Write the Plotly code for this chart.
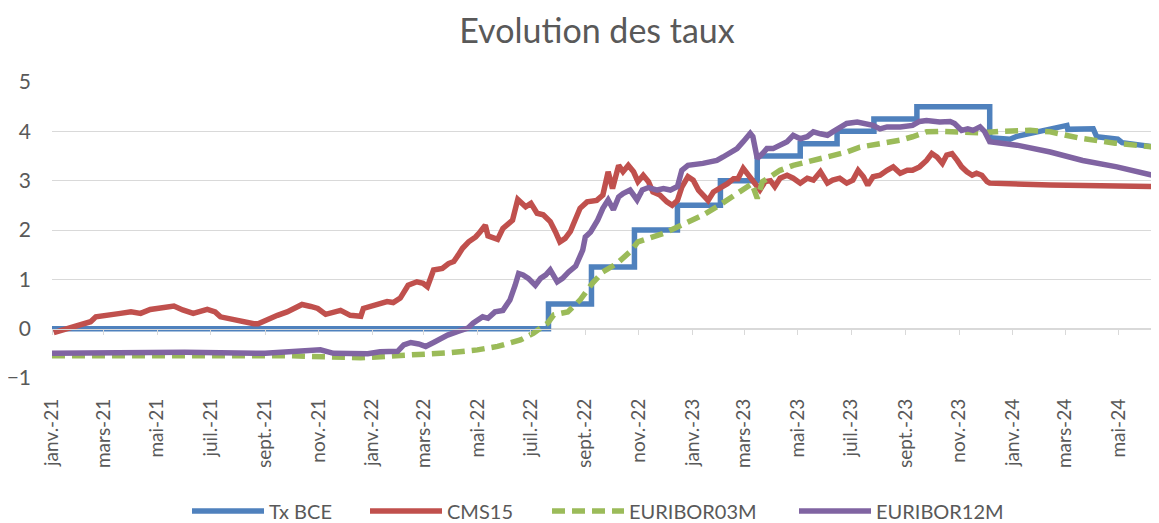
import plotly.graph_objects as go

# ---------------- data ----------------
bce_step_dates = ["2021-01-01", "2022-07-21", "2022-09-08", "2022-10-27", "2022-12-15",
                  "2023-02-02", "2023-03-16", "2023-05-04", "2023-06-15", "2023-07-27",
                  "2023-09-14"]
bce_step_rates = [0.0, 0.5, 1.25, 2.0, 2.5, 3.0, 3.5, 3.75, 4.0, 4.25, 4.5]
bce_fwd_dates = ["2023-12-06", "2023-12-29", "2024-01-06", "2024-02-05", "2024-03-03",
                 "2024-03-04", "2024-04-02", "2024-04-06", "2024-04-30", "2024-05-05",
                 "2024-06-16"]
bce_fwd_rates = [3.87, 3.84, 3.90, 4.01, 4.12, 4.04, 4.05, 3.89, 3.84, 3.77, 3.67]

cms_dates = ["2021-01-03", "2021-01-19", "2021-02-03", "2021-02-14", "2021-02-20", "2021-03-01",
             "2021-03-20", "2021-04-01", "2021-04-12", "2021-04-23", "2021-05-05", "2021-05-20",
             "2021-05-30", "2021-06-11", "2021-06-27", "2021-07-06", "2021-07-12", "2021-07-27",
             "2021-08-07", "2021-08-19", "2021-08-24", "2021-09-04", "2021-09-15", "2021-09-26",
             "2021-10-03", "2021-10-13", "2021-10-23", "2021-10-31", "2021-11-09", "2021-11-18",
             "2021-11-26", "2021-12-07", "2021-12-19", "2021-12-22", "2022-01-07", "2022-01-18",
             "2022-01-25", "2022-02-02", "2022-02-11", "2022-02-21", "2022-02-28", "2022-03-05",
             "2022-03-12", "2022-03-22", "2022-03-29", "2022-04-04", "2022-04-09", "2022-04-14",
             "2022-04-21", "2022-04-29", "2022-05-04", "2022-05-10", "2022-05-13", "2022-05-24",
             "2022-05-30", "2022-06-10", "2022-06-16", "2022-06-19", "2022-06-25", "2022-07-01",
             "2022-07-08", "2022-07-15", "2022-07-23", "2022-07-29", "2022-08-03", "2022-08-09",
             "2022-08-15", "2022-08-18", "2022-08-26", "2022-09-03", "2022-09-14", "2022-09-21",
             "2022-09-27", "2022-10-02", "2022-10-09", "2022-10-14", "2022-10-20", "2022-10-26",
             "2022-10-31", "2022-11-06", "2022-11-12", "2022-11-17", "2022-11-25", "2022-12-03",
             "2022-12-09", "2022-12-15", "2022-12-20", "2022-12-27", "2023-01-02", "2023-01-08",
             "2023-01-13", "2023-01-19", "2023-01-25", "2023-02-02", "2023-02-10", "2023-02-17",
             "2023-02-22", "2023-02-28", "2023-03-06", "2023-03-11", "2023-03-19", "2023-03-25",
             "2023-03-31", "2023-04-05", "2023-04-11", "2023-04-19", "2023-04-26", "2023-05-04",
             "2023-05-12", "2023-05-19", "2023-05-27", "2023-06-04", "2023-06-10", "2023-06-18",
             "2023-06-26", "2023-07-03", "2023-07-09", "2023-07-15", "2023-07-20", "2023-07-26",
             "2023-08-03", "2023-08-11", "2023-08-18", "2023-08-26", "2023-09-03", "2023-09-09",
             "2023-09-17", "2023-09-25", "2023-10-01", "2023-10-07", "2023-10-13", "2023-10-18",
             "2023-10-24", "2023-10-30", "2023-11-04", "2023-11-10", "2023-11-16", "2023-11-21",
             "2023-11-27", "2023-12-03", "2023-12-06", "2024-02-13", "2024-04-29", "2024-06-16"]
cms_values = [-0.08, 0.00, 0.07, 0.14, 0.24, 0.27,
              0.31, 0.34, 0.31, 0.39, 0.43, 0.46,
              0.38, 0.31, 0.39, 0.34, 0.24, 0.18,
              0.14, 0.10, 0.10, 0.20, 0.27, 0.34,
              0.41, 0.49, 0.45, 0.41, 0.29, 0.34,
              0.37, 0.27, 0.25, 0.41, 0.51, 0.55,
              0.53, 0.62, 0.88, 0.95, 0.92, 0.85,
              1.19, 1.22, 1.32, 1.36, 1.49, 1.63,
              1.76, 1.86, 1.96, 2.10, 1.88, 1.81,
              2.03, 2.20, 2.62, 2.58, 2.47, 2.54,
              2.34, 2.31, 2.17, 1.96, 1.76, 1.83,
              1.97, 2.10, 2.44, 2.57, 2.60, 2.71,
              3.18, 2.84, 3.31, 3.18, 3.31, 3.18,
              2.98, 3.11, 2.98, 2.77, 2.71, 2.57,
              2.50, 2.60, 2.87, 3.08, 3.01, 2.81,
              2.71, 2.60, 2.77, 2.84, 2.94, 3.04,
              3.04, 3.25, 3.11, 2.98, 2.81, 2.98,
              3.00, 2.88, 3.05, 3.11, 3.05, 2.95,
              3.05, 3.01, 3.18, 2.95, 3.01, 3.05,
              2.95, 3.01, 3.21, 3.08, 2.91, 3.08,
              3.11, 3.21, 3.28, 3.15, 3.21, 3.21,
              3.28, 3.41, 3.55, 3.48, 3.35, 3.52,
              3.55, 3.41, 3.28, 3.18, 3.11, 3.15,
              3.11, 2.98, 2.95, 2.91, 2.89, 2.88]

e3m_dates = ["2021-01-01", "2021-06-01", "2021-10-01", "2021-12-19", "2022-01-10", "2022-02-17",
             "2022-03-28", "2022-05-01", "2022-05-24", "2022-06-19", "2022-07-04", "2022-07-20",
             "2022-07-27", "2022-08-12", "2022-08-26", "2022-09-09", "2022-09-21", "2022-10-07",
             "2022-10-22", "2022-10-31", "2022-11-14", "2022-11-29", "2022-12-15", "2022-12-29",
             "2023-01-13", "2023-01-29", "2023-02-13", "2023-02-28", "2023-03-10", "2023-03-16",
             "2023-03-22", "2023-03-31", "2023-04-11", "2023-04-26", "2023-05-12", "2023-05-27",
             "2023-06-10", "2023-06-26", "2023-07-11", "2023-07-26", "2023-08-11", "2023-08-26",
             "2023-09-09", "2023-09-25", "2023-10-10", "2023-10-25", "2023-11-05", "2023-11-28",
             "2023-12-18", "2024-01-21", "2024-02-13", "2024-03-18", "2024-04-27", "2024-06-16"]
e3m_values = [-0.55, -0.54, -0.55, -0.59, -0.57, -0.53,
              -0.49, -0.43, -0.36, -0.23, -0.09, 0.11,
              0.28, 0.34, 0.58, 0.92, 1.15, 1.32,
              1.56, 1.76, 1.83, 1.93, 2.06, 2.17,
              2.30, 2.47, 2.64, 2.81, 2.94, 2.64,
              2.98, 3.08, 3.21, 3.31, 3.38, 3.45,
              3.52, 3.58, 3.68, 3.72, 3.79, 3.82,
              3.89, 3.99, 4.00, 3.99, 3.97, 3.97,
              4.00, 4.02, 3.99, 3.86, 3.76, 3.67]

e12m_dates = ["2021-01-01", "2021-03-15", "2021-06-01", "2021-09-01", "2021-11-03", "2021-11-18",
              "2021-12-27", "2022-01-10", "2022-01-30", "2022-02-06", "2022-02-14", "2022-02-23",
              "2022-03-03", "2022-03-12", "2022-03-28", "2022-04-08", "2022-04-20", "2022-04-26",
              "2022-05-07", "2022-05-13", "2022-05-21", "2022-05-30", "2022-06-07", "2022-06-13",
              "2022-06-17", "2022-06-22", "2022-06-28", "2022-07-06", "2022-07-12", "2022-07-18",
              "2022-07-23", "2022-07-31", "2022-08-06", "2022-08-13", "2022-08-21", "2022-08-29",
              "2022-09-01", "2022-09-07", "2022-09-15", "2022-09-21", "2022-09-27", "2022-10-03",
              "2022-10-09", "2022-10-14", "2022-10-22", "2022-10-30", "2022-11-05", "2022-11-12",
              "2022-11-22", "2022-11-29", "2022-12-07", "2022-12-15", "2022-12-20", "2022-12-27",
              "2023-01-06", "2023-01-13", "2023-01-21", "2023-01-29", "2023-02-05", "2023-02-13",
              "2023-02-21", "2023-02-28", "2023-03-08", "2023-03-11", "2023-03-16", "2023-03-22",
              "2023-03-27", "2023-04-03", "2023-04-11", "2023-04-19", "2023-04-26", "2023-05-04",
              "2023-05-12", "2023-05-19", "2023-05-27", "2023-06-04", "2023-06-10", "2023-06-18",
              "2023-06-26", "2023-07-08", "2023-07-15", "2023-07-26", "2023-08-03", "2023-08-11",
              "2023-08-26", "2023-09-09", "2023-09-17", "2023-09-25", "2023-10-10", "2023-10-22",
              "2023-10-27", "2023-11-04", "2023-11-11", "2023-11-17", "2023-11-25", "2023-11-30",
              "2023-12-06", "2024-01-06", "2024-02-13", "2024-03-21", "2024-04-29", "2024-06-16"]
e12m_values = [-0.50, -0.49, -0.48, -0.50, -0.43, -0.50,
               -0.51, -0.47, -0.46, -0.33, -0.28, -0.31,
               -0.36, -0.28, -0.13, -0.06, 0.01, 0.11,
               0.24, 0.21, 0.34, 0.37, 0.58, 0.88,
               1.12, 1.09, 1.02, 0.88, 1.02, 1.09,
               1.19, 0.95, 1.02, 1.15, 1.27, 1.59,
               1.86, 1.96, 2.20, 2.44, 2.61, 2.41,
               2.67, 2.74, 2.81, 2.61, 2.81, 2.86,
               2.81, 2.84, 2.81, 2.88, 3.21, 3.31,
               3.35, 3.35, 3.38, 3.41, 3.48, 3.55,
               3.65, 3.79, 3.96, 3.89, 3.45, 3.55,
               3.65, 3.65, 3.72, 3.79, 3.92, 3.85,
               3.89, 3.99, 3.95, 3.92, 3.99, 4.09,
               4.16, 4.19, 4.16, 4.12, 4.05, 4.09,
               4.09, 4.12, 4.20, 4.22, 4.19, 4.20,
               4.16, 4.02, 4.05, 4.02, 4.09, 4.00,
               3.79, 3.72, 3.58, 3.41, 3.28, 3.08]

tick_dates = ["2021-01-01", "2021-03-01", "2021-05-01", "2021-07-01", "2021-09-01", "2021-11-01",
              "2022-01-01", "2022-03-01", "2022-05-01", "2022-07-01", "2022-09-01", "2022-11-01",
              "2023-01-01", "2023-03-01", "2023-05-01", "2023-07-01", "2023-09-01", "2023-11-01",
              "2024-01-01", "2024-03-01", "2024-05-01"]
tick_labels = ["janv.-21", "mars-21", "mai-21", "juil.-21", "sept.-21", "nov.-21",
               "janv.-22", "mars-22", "mai-22", "juil.-22", "sept.-22", "nov.-22",
               "janv.-23", "mars-23", "mai-23", "juil.-23", "sept.-23", "nov.-23",
               "janv.-24", "mars-24", "mai-24"]

x_range = ["2021-01-01", "2024-06-16"]
y_range = [-1, 5]

# build step series for Tx BCE from the decision dates
bce_x, bce_y = [], []
for i, (d, r) in enumerate(zip(bce_step_dates, bce_step_rates)):
    if i > 0:
        bce_x.append(d)
        bce_y.append(bce_step_rates[i - 1])
    bce_x.append(d)
    bce_y.append(r)
bce_x.append(bce_fwd_dates[0])
bce_y.append(bce_step_rates[-1])
bce_x += bce_fwd_dates
bce_y += bce_fwd_rates

FONT = "Lato"
GREY = "#595959"
LW = 5.5
# the page body keeps an 8px margin, so the figure is sized to fit the 1159x523 window
W, H = 1151, 515

fig = go.Figure()
fig.add_trace(go.Scatter(x=bce_x, y=bce_y, mode="lines", name="Tx BCE", legend="legend",
                         line=dict(color="#4F81BD", width=LW)))
fig.add_trace(go.Scatter(x=cms_dates, y=cms_values, mode="lines", name="CMS15", legend="legend2",
                         line=dict(color="#C0504D", width=LW)))
fig.add_trace(go.Scatter(x=e3m_dates, y=e3m_values, mode="lines", name="EURIBOR03M",
                         legend="legend3",
                         line=dict(color="#9BBB59", width=LW, dash="13px,7px")))
fig.add_trace(go.Scatter(x=e12m_dates, y=e12m_values, mode="lines", name="EURIBOR12M",
                         legend="legend4",
                         line=dict(color="#8064A2", width=LW)))
# empty trace so that the tick-mark axis at y=0 gets drawn
fig.add_trace(go.Scatter(x=[], y=[], xaxis="x2", showlegend=False, hoverinfo="skip"))


def legend_at(px_left):
    return dict(orientation="h", x=(px_left - 8 - 6) / W, xanchor="left", xref="container",
                y=12 / H, yanchor="middle", yref="container", bgcolor="rgba(0,0,0,0)",
                font=dict(family=FONT, size=20, color=GREY), itemwidth=72)


fig.update_layout(
    width=W, height=H,
    margin=dict(l=44, r=0, t=74, b=145, autoexpand=False),
    paper_bgcolor="white", plot_bgcolor="white",
    font=dict(family=FONT, color=GREY),
    title=dict(text="Evolution des taux", x=589 / W, xanchor="center", xref="container",
               y=1 - 23 / H, yanchor="middle", yref="container",
               font=dict(family=FONT, size=34, color=GREY)),
    xaxis=dict(type="date", range=x_range, tickmode="array", tickvals=tick_dates,
               ticktext=tick_labels, tickangle=-90, showgrid=False, zeroline=False,
               showline=False, ticks="", ticklabelstandoff=16,
               tickfont=dict(family=FONT, size=19, color=GREY)),
    xaxis2=dict(type="date", range=x_range, overlaying="x", anchor="free",
                position=(0 - y_range[0]) / (y_range[1] - y_range[0]),
                tickmode="array", tickvals=tick_dates, showticklabels=False,
                ticks="outside", ticklen=5, tickcolor="#D9D9D9", tickwidth=1,
                showline=True, linecolor="#D9D9D9", showgrid=False, zeroline=False),
    yaxis=dict(range=y_range, dtick=1, showgrid=True, gridcolor="#D9D9D9", gridwidth=1,
               zeroline=False, showline=False, ticks="", ticklabelstandoff=20,
               tickfont=dict(family=FONT, size=21, color=GREY)),
    legend=legend_at(193),
    legend2=legend_at(371),
    legend3=legend_at(553),
    legend4=legend_at(800),
    showlegend=True,
)

fig.write_html("out.html")
